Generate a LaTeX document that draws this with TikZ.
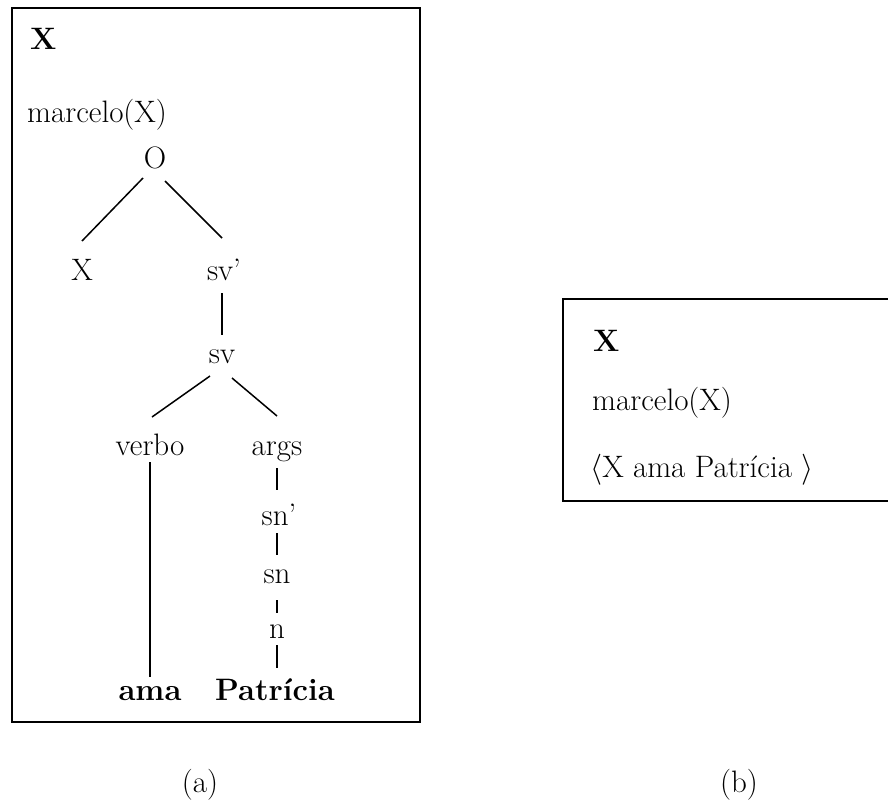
\RequirePackage{fix-cm}
\documentclass[tikz,border=0pt]{standalone}
\usepackage{fontspec}
\usetikzlibrary{calc}
\tikzset{
  lbl/.style={inner sep=0pt, anchor=base, font=\fontsize{31}{37}\selectfont},
  lblL/.style={inner sep=0pt, anchor=base west, font=\fontsize{31}{37}\selectfont},
  edge/.style={line width=1.5pt},
  frame/.style={line width=1.8pt}
}
\begin{document}
\begin{tikzpicture}[x=1pt,y=-1pt]
\useasboundingbox (0,0) rectangle (888,800);
% box (a)
\draw[frame] (12,8) rectangle (420,722);
\node[lblL] (hx) at (30,50) {\textbf{X}};
\node[lblL] (marc) at (27,122) {marcelo(X)};
\node[lbl] (O) at (155,168) {O};
\node[lbl] (X) at (82,280) {X};
\node[lbl] (svp) at (224,280) {sv’};
\node[lbl] (sv) at (222,363) {sv};
\node[lbl] (verbo) at (150,455) {verbo};
\node[lbl] (args) at (277,455) {args};
\node[lbl] (snp) at (279,525) {sn’};
\node[lbl] (sn) at (277,583) {sn};
\node[lbl] (n) at (277,638) {n};
\node[lbl] (ama) at (150,700) {\textbf{ama}};
\node[lbl] (pat) at (275,700) {\textbf{Patrícia}};
\draw[edge] ($(O.base)+(-12,10)$) -- ($(X.base)+(0,-39)$);
\draw[edge] ($(O.base)+(10,13)$) -- ($(svp.base)+(-2,-42)$);
\draw[edge] ($(svp.base)+(-2,13)$) -- ($(sv.base)+(0,-28)$);
\draw[edge] ($(sv.base)+(-12,13)$) -- ($(verbo.base)+(2,-38)$);
\draw[edge] ($(sv.base)+(10,15)$) -- ($(args.base)+(0,-39)$);
\draw[edge] ($(verbo.base)+(0,7)$) -- ($(ama.base)+(0,-23)$);
\draw[edge] ($(args.base)+(0,13)$) -- ($(snp.base)+(-2,-35)$);
\draw[edge] ($(snp.base)+(-2,8)$) -- ($(sn.base)+(0,-28)$);
\draw[edge] ($(sn.base)+(0,17)$) -- ($(n.base)+(0,-25)$);
\draw[edge] ($(n.base)+(0,7)$) -- ($(pat.base)+(2,-32)$);
% box (b)
\draw[frame] (888,299) -- (563,299) -- (563,501) -- (888,501);
\node[lblL] (bx) at (593,351) {\textbf{X}};
\node[lblL] (bmarc) at (592,410) {marcelo(X)};
\node[lblL] (bama) at (590,477) {$\langle$X ama Patrícia $\rangle$};
% captions
\node[lbl] (capa) at (200,792) {(a)};
\node[lbl] (capb) at (739,792) {(b)};
\end{tikzpicture}
\end{document}
